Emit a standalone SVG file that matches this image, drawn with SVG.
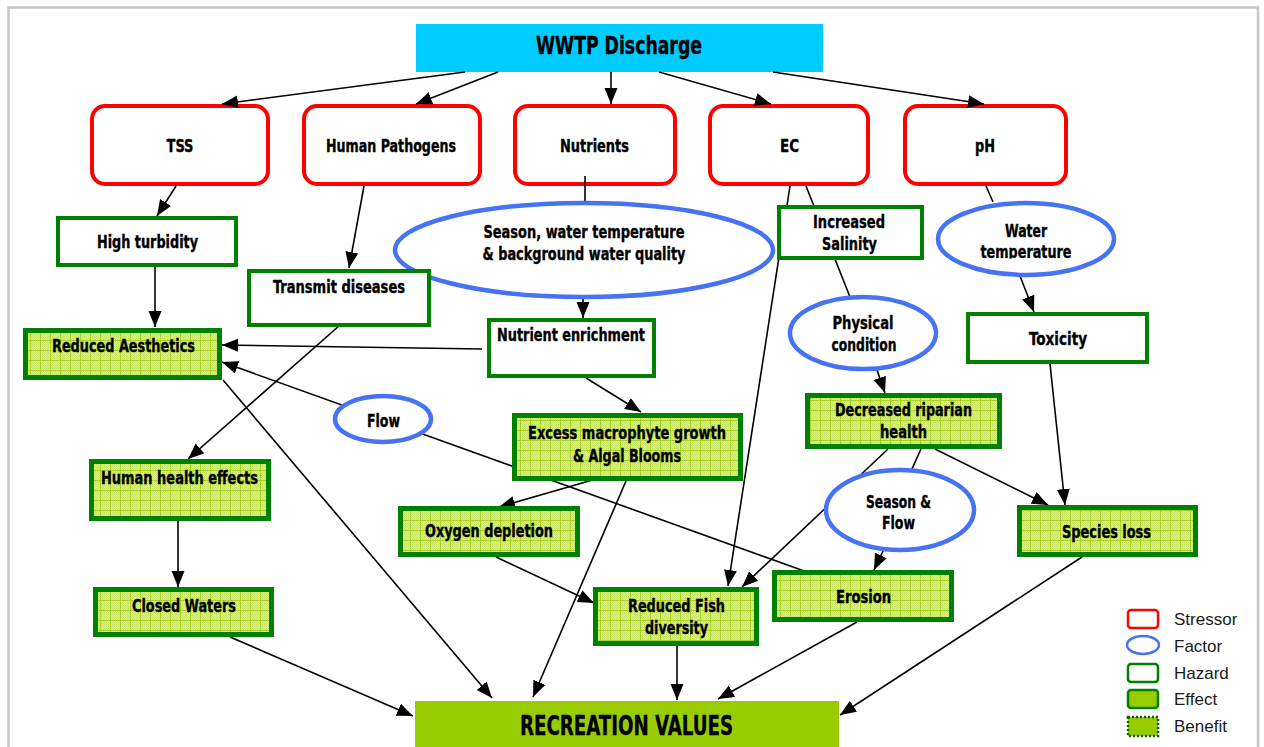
<svg xmlns="http://www.w3.org/2000/svg" width="1264" height="747" viewBox="0 0 1264 747">
  <defs>
    <style>
      .t { font-family: "DejaVu Sans Condensed", "DejaVu Sans", sans-serif; font-weight: bold; font-stretch: condensed; font-size: 17px; text-anchor: middle; fill: #000; stroke: #000; stroke-width: 0.35; }
      .big { font-size: 24px; }
      .stressor { fill: #fff; stroke: #ff0000; stroke-width: 4; }
      .factor { fill: #fff; stroke: #4672f4; stroke-width: 4.5; }
      .hazard { fill: #fff; stroke: #008000; stroke-width: 4; }
      .effect { fill: url(#grid); stroke: #008000; stroke-width: 5; }
      .edge { stroke: #000; stroke-width: 1.6; fill: none; }
      .arrow { marker-end: url(#head); }
      .leg { font-family: "Liberation Sans", Arial, sans-serif; font-size: 17px; fill: #1a1a1a; }
    </style>
    <marker id="head" markerUnits="userSpaceOnUse" markerWidth="17" markerHeight="14" refX="16" refY="6.5" orient="auto">
      <path d="M0,0 L16,6.5 L0,13 z" fill="#000"/>
    </marker>
    <pattern id="dots" width="2" height="2" patternUnits="userSpaceOnUse">
      <rect width="2" height="2" fill="#daed98"/>
      <rect width="1" height="1" fill="#c6e066"/>
      <rect x="1" y="1" width="1" height="1" fill="#cde476"/>
    </pattern>
    <pattern id="grid" width="10" height="10" patternUnits="userSpaceOnUse">
      <rect width="10" height="10" fill="url(#dots)"/>
      <path d="M0 0.5H10M0.5 0V10" stroke="#a8d224" stroke-width="1"/>
    </pattern>
    <clipPath id="wt-clip">
      <rect x="930" y="200" width="190" height="58.5"/>
    </clipPath>
  </defs>

  <!-- page frame -->
  <rect x="0" y="0" width="1264" height="747" fill="#fff"/>
  <rect x="8.5" y="7.5" width="1249.5" height="745" fill="#fff" stroke="#c6c6c6" stroke-width="2.5"/>

  <!-- source -->
  <g id="wwtp">
    <rect x="416" y="24" width="407" height="48" fill="#00ccff"/>
    <text class="t big" x="619" y="54" textLength="166" lengthAdjust="spacingAndGlyphs">WWTP Discharge</text>
  </g>

  <!-- stressors -->
  <g id="tss">
    <rect class="stressor" x="92" y="106" width="176" height="78" rx="13"/>
    <text class="t" x="180" y="152" textLength="27" lengthAdjust="spacingAndGlyphs">TSS</text>
  </g>
  <g id="pathogens">
    <rect class="stressor" x="304" y="106" width="176" height="78" rx="13"/>
    <text class="t" x="391" y="152" textLength="130" lengthAdjust="spacingAndGlyphs">Human Pathogens</text>
  </g>
  <g id="nutrients">
    <rect class="stressor" x="515" y="106" width="160" height="78" rx="13"/>
    <text class="t" x="594.5" y="152" textLength="69" lengthAdjust="spacingAndGlyphs">Nutrients</text>
  </g>
  <g id="ec">
    <rect class="stressor" x="710" y="106" width="158" height="78" rx="13"/>
    <text class="t" x="789.5" y="152" textLength="19" lengthAdjust="spacingAndGlyphs">EC</text>
  </g>
  <g id="ph">
    <rect class="stressor" x="905" y="106" width="161" height="78" rx="13"/>
    <text class="t" x="985" y="152" textLength="20" lengthAdjust="spacingAndGlyphs">pH</text>
  </g>

  <!-- connectors -->
  <g id="connectors">
    <line class="edge arrow" x1="465" y1="72" x2="222" y2="104"/>
    <line class="edge arrow" x1="498" y1="72" x2="416" y2="104"/>
    <line class="edge arrow" x1="611" y1="72" x2="611" y2="104"/>
    <line class="edge arrow" x1="659" y1="72" x2="771" y2="104"/>
    <line class="edge arrow" x1="773" y1="72" x2="984" y2="104"/>
    <line class="edge arrow" x1="176" y1="186" x2="157" y2="216"/>
    <line class="edge arrow" x1="364" y1="186" x2="349" y2="268"/>
    <line class="edge" x1="585" y1="176" x2="585" y2="204"/>
    <line class="edge arrow" x1="583" y1="298" x2="583" y2="318"/>
    <line class="edge arrow" x1="155" y1="267" x2="155" y2="327"/>
    <line class="edge arrow" x1="482" y1="349" x2="222" y2="345"/>
    <line class="edge arrow" x1="807" y1="572" x2="222" y2="362"/>
    <line class="edge arrow" x1="348" y1="318" x2="188" y2="459"/>
    <line class="edge arrow" x1="223" y1="380" x2="492" y2="698"/>
    <line class="edge arrow" x1="626" y1="481" x2="533" y2="697"/>
    <line class="edge arrow" x1="596" y1="479" x2="499" y2="507"/>
    <line class="edge arrow" x1="586" y1="378" x2="641" y2="412"/>
    <line class="edge arrow" x1="178" y1="521" x2="178" y2="587"/>
    <line class="edge arrow" x1="230" y1="637" x2="413" y2="716"/>
    <line class="edge arrow" x1="496" y1="557" x2="594" y2="603"/>
    <line class="edge arrow" x1="790" y1="186" x2="728" y2="586"/>
    <line class="edge" x1="806" y1="186" x2="850" y2="297"/>
    <line class="edge arrow" x1="877" y1="370" x2="885" y2="393"/>
    <line class="edge" x1="986" y1="186" x2="993" y2="202"/>
    <line class="edge arrow" x1="1020" y1="276" x2="1034" y2="312"/>
    <line class="edge arrow" x1="1050" y1="364" x2="1065" y2="505"/>
    <line class="edge arrow" x1="935" y1="449" x2="1048" y2="505"/>
    <line class="edge arrow" x1="888" y1="449" x2="742" y2="587"/>
    <line class="edge" x1="921" y1="449" x2="911" y2="471"/>
    <line class="edge arrow" x1="883" y1="551" x2="874" y2="570"/>
    <line class="edge arrow" x1="677" y1="646" x2="677" y2="700"/>
    <line class="edge arrow" x1="857" y1="622" x2="718" y2="699"/>
    <line class="edge arrow" x1="1082" y1="557" x2="840" y2="715"/>
  </g>

  <!-- factors -->
  <g id="season-quality">
    <ellipse class="factor" cx="584" cy="250" rx="189" ry="47"/>
    <text class="t" x="584" y="238" textLength="201" lengthAdjust="spacingAndGlyphs">Season, water temperature</text>
    <text class="t" x="584" y="260" textLength="203" lengthAdjust="spacingAndGlyphs">&amp; background water quality</text>
  </g>
  <g id="water-temperature">
    <ellipse class="factor" cx="1026" cy="239" rx="88" ry="36"/>
    <text class="t" x="1026" y="237" textLength="42" lengthAdjust="spacingAndGlyphs">Water</text>
    <text class="t" x="1026" y="258" textLength="91" lengthAdjust="spacingAndGlyphs" clip-path="url(#wt-clip)">temperature</text>
  </g>
  <g id="physical-condition">
    <ellipse class="factor" cx="863" cy="333" rx="73" ry="36"/>
    <text class="t" x="863" y="329" textLength="61" lengthAdjust="spacingAndGlyphs">Physical</text>
    <text class="t" x="864" y="351" textLength="65" lengthAdjust="spacingAndGlyphs">condition</text>
  </g>
  <g id="flow">
    <ellipse class="factor" cx="383" cy="419" rx="48" ry="23"/>
    <text class="t" x="383.5" y="427" textLength="33" lengthAdjust="spacingAndGlyphs">Flow</text>
  </g>
  <g id="season-flow">
    <ellipse class="factor" cx="900" cy="510" rx="74" ry="40"/>
    <text class="t" x="898.5" y="508" textLength="65" lengthAdjust="spacingAndGlyphs">Season &amp;</text>
    <text class="t" x="898.5" y="529" textLength="33" lengthAdjust="spacingAndGlyphs">Flow</text>
  </g>

  <!-- hazards -->
  <g id="high-turbidity">
    <rect class="hazard" x="58" y="218" width="178" height="47"/>
    <text class="t" x="147.5" y="248" textLength="101" lengthAdjust="spacingAndGlyphs">High turbidity</text>
  </g>
  <g id="transmit-diseases">
    <rect class="hazard" x="249" y="271" width="180" height="54"/>
    <text class="t" x="339" y="293" textLength="132" lengthAdjust="spacingAndGlyphs">Transmit diseases</text>
  </g>
  <g id="increased-salinity">
    <rect class="hazard" x="779" y="207" width="143" height="51"/>
    <text class="t" x="849" y="228" textLength="72" lengthAdjust="spacingAndGlyphs">Increased</text>
    <text class="t" x="849.5" y="250" textLength="55" lengthAdjust="spacingAndGlyphs">Salinity</text>
  </g>
  <g id="nutrient-enrichment">
    <rect class="hazard" x="489" y="320" width="165" height="56"/>
    <text class="t" x="571" y="341" textLength="148" lengthAdjust="spacingAndGlyphs">Nutrient enrichment</text>
  </g>
  <g id="toxicity">
    <rect class="hazard" x="968" y="314" width="179" height="48"/>
    <text class="t" x="1058" y="345" textLength="58" lengthAdjust="spacingAndGlyphs">Toxicity</text>
  </g>

  <!-- effects -->
  <g id="reduced-aesthetics">
    <rect class="effect" x="25.5" y="330.5" width="194" height="47"/>
    <text class="t" x="123.5" y="352" textLength="143" lengthAdjust="spacingAndGlyphs">Reduced Aesthetics</text>
  </g>
  <g id="human-health">
    <rect class="effect" x="91.5" y="461.5" width="177" height="57"/>
    <text class="t" x="179.5" y="484" textLength="157" lengthAdjust="spacingAndGlyphs">Human health effects</text>
  </g>
  <g id="closed-waters">
    <rect class="effect" x="95.5" y="589.5" width="176" height="45"/>
    <text class="t" x="184" y="612" textLength="104" lengthAdjust="spacingAndGlyphs">Closed Waters</text>
  </g>
  <g id="macrophyte-growth">
    <rect class="effect" x="514.5" y="415.5" width="226" height="63"/>
    <text class="t" x="627" y="439" textLength="198" lengthAdjust="spacingAndGlyphs">Excess macrophyte growth</text>
    <text class="t" x="627" y="462" textLength="108" lengthAdjust="spacingAndGlyphs">&amp; Algal Blooms</text>
  </g>
  <g id="oxygen-depletion">
    <rect class="effect" x="400.5" y="508.5" width="177" height="46"/>
    <text class="t" x="489" y="537" textLength="128" lengthAdjust="spacingAndGlyphs">Oxygen depletion</text>
  </g>
  <g id="reduced-fish">
    <rect class="effect" x="595.5" y="589.5" width="161" height="54"/>
    <text class="t" x="676.5" y="612" textLength="97" lengthAdjust="spacingAndGlyphs">Reduced Fish</text>
    <text class="t" x="676.5" y="634" textLength="63" lengthAdjust="spacingAndGlyphs">diversity</text>
  </g>
  <g id="riparian-health">
    <rect class="effect" x="807.5" y="395.5" width="192" height="51"/>
    <text class="t" x="903.5" y="416" textLength="137" lengthAdjust="spacingAndGlyphs">Decreased riparian</text>
    <text class="t" x="903.5" y="438" textLength="47" lengthAdjust="spacingAndGlyphs">health</text>
  </g>
  <g id="erosion">
    <rect class="effect" x="774.5" y="572.5" width="177" height="47"/>
    <text class="t" x="863.5" y="603" textLength="55" lengthAdjust="spacingAndGlyphs">Erosion</text>
  </g>
  <g id="species-loss">
    <rect class="effect" x="1019.5" y="507.5" width="176" height="47"/>
    <text class="t" x="1106.5" y="538" textLength="89" lengthAdjust="spacingAndGlyphs">Species loss</text>
  </g>

  <!-- benefit -->
  <g id="recreation-values">
    <rect x="415" y="701" width="424" height="50" fill="#99cc00"/>
    <text class="t" x="626.5" y="735" style="font-size:26px" textLength="213" lengthAdjust="spacingAndGlyphs">RECREATION VALUES</text>
  </g>

  <!-- legend -->
  <g id="legend">
    <rect x="1128" y="610" width="30" height="18" rx="3" fill="#fff" stroke="#ff0000" stroke-width="2.5"/>
    <text class="leg" x="1174" y="625">Stressor</text>
    <ellipse cx="1143" cy="645" rx="16" ry="9" fill="#fff" stroke="#4672f4" stroke-width="2.5"/>
    <text class="leg" x="1174" y="652">Factor</text>
    <rect x="1128" y="664" width="30" height="18" rx="3" fill="#fff" stroke="#008000" stroke-width="2.5"/>
    <text class="leg" x="1174" y="679">Hazard</text>
    <rect x="1128" y="690" width="30" height="18" rx="3" fill="#99cc00" stroke="#008000" stroke-width="2.5"/>
    <text class="leg" x="1174" y="705">Effect</text>
    <rect x="1128" y="717" width="30" height="19" fill="#99cc00" stroke="#006400" stroke-width="2.5" stroke-dasharray="2 2"/>
    <text class="leg" x="1174" y="732">Benefit</text>
  </g>
</svg>
